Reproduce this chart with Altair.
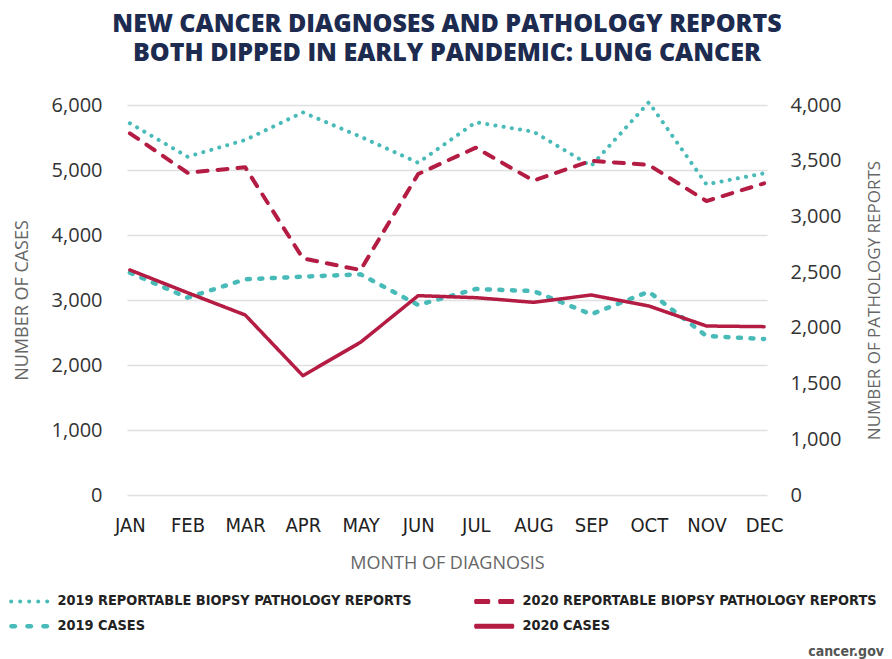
import altair as alt
import pandas as pd

months = ["JAN", "FEB", "MAR", "APR", "MAY", "JUN", "JUL", "AUG", "SEP", "OCT", "NOV", "DEC"]
cases_2019 = [3421, 3036, 3318, 3359, 3395, 2923, 3169, 3138, 2780, 3128, 2446, 2400]
cases_2020 = [3462, 3112, 2769, 1836, 2349, 3067, 3036, 2964, 3077, 2908, 2600, 2590]
reports_2019 = [3836, 3536, 3686, 3934, 3716, 3482, 3845, 3760, 3453, 4024, 3288, 3387]
reports_2020 = [3746, 3392, 3441, 2624, 2519, 3381, 3617, 3321, 3500, 3462, 3138, 3297]

# legend order (column by column): 2019 reports, 2019 cases | 2020 reports, 2020 cases
series_names = [
    "2019 REPORTABLE BIOPSY PATHOLOGY REPORTS",
    "2019 CASES",
    "2020 REPORTABLE BIOPSY PATHOLOGY REPORTS",
    "2020 CASES",
]
TEAL = "#48bbb8"
RED = "#b41c44"
series_colors = [TEAL, TEAL, RED, RED]

left_ticks = [0, 1000, 2000, 3000, 4000, 5000, 6000]
right_ticks = [500, 1000, 1500, 2000, 2500, 3000, 3500, 4000]

title_lines = ["NEW CANCER DIAGNOSES AND PATHOLOGY REPORTS",
               "BOTH DIPPED IN EARLY PANDEMIC: LUNG CANCER"]
source_text = ["cancer.gov"]

rows = []
for name, vals in zip(series_names, [reports_2019, cases_2019, reports_2020, cases_2020]):
    for m, v in zip(months, vals):
        rows.append({"month": m, "series": name, "value": v})
df = pd.DataFrame(rows)


# legend key glyphs (symbol paths in the -1..1 unit box convention)
def circle(cx, r):
    return f"M{cx - r},0A{r},{r} 0 1,0 {cx + r},0A{r},{r} 0 1,0 {cx - r},0Z"


def capsule(x0, x1, h, r):
    return (f"M{x0 + r},{-h}H{x1 - r}A{r},{r} 0 0 1 {x1},{-h + r}V{h - r}"
            f"A{r},{r} 0 0 1 {x1 - r},{h}H{x0 + r}A{r},{r} 0 0 1 {x0},{h - r}V{-h + r}"
            f"A{r},{r} 0 0 1 {x0 + r},{-h}Z")


key_dots = "".join(circle(c, 0.4) for c in [-6.6, -4.8, -3.0, -1.2, 0.6])
key_short = "".join(capsule(a, b, 0.45, 0.45) for a, b in [(-7, -5.4), (-3.8, -2.2), (-0.6, 1.0)])
key_long = "".join(capsule(a, b, 0.5, 0.3) for a, b in [(-7, -3.8), (-2.2, 1.0)])
key_solid = capsule(-7, 1, 0.5, 0.3)
series_keys = [key_dots, key_short, key_long, key_solid]

NARROW = "'Liberation Sans Narrow', 'DejaVu Sans Condensed', 'Arial Narrow', sans-serif"
SANS = "Open Sans"

legend = alt.Legend(
    title=None, orient="none", legendX=-90, legendY=489, columns=2,
    columnPadding=62, rowPadding=10, padding=0,
    symbolSize=100, symbolStrokeWidth=0,
    labelFont=NARROW, labelFontSize=14.4, labelFontWeight="bold",
    labelColor="#222222", labelOffset=6, labelLimit=500,
)

x = alt.X("month:O", sort=months, scale=alt.Scale(type="point", padding=0.05),
          axis=alt.Axis(labelAngle=0, labelFont=NARROW, labelFontSize=20, labelColor="#222222",
                        labelPadding=20, ticks=False, domain=False, grid=False,
                        title="MONTH OF DIAGNOSIS", titleFont=SANS, titleFontSize=18,
                        titleFontWeight="normal", titleColor="#666666", titlePadding=19))

y_left = alt.Y("value:Q", scale=alt.Scale(domain=[0, 6000], nice=False),
               axis=alt.Axis(values=left_ticks, format=",.0f", orient="left",
                             title="NUMBER OF CASES", titleAngle=270, titleX=-105, titleY=195,
                             titleBaseline="middle", titleAlign="center",
                             titleFont=SANS, titleFontSize=18, titleFontWeight="normal", titleColor="#666666",
                             labelFont=SANS, labelFontSize=20, labelColor="#333333", labelPadding=25,
                             ticks=False, domain=False, grid=True, gridColor="#e0e0e0", gridWidth=1.5))

y_right = alt.Y("value:Q", scale=alt.Scale(domain=[500, 4000], nice=False, zero=False),
                axis=alt.Axis(values=right_ticks, orient="right",
                              labelExpr="datum.value == 500 ? '0' : format(datum.value, ',')",
                              title="NUMBER OF PATHOLOGY REPORTS", titleAngle=270, titleX=107, titleY=195,
                              titleBaseline="middle", titleAlign="center",
                              titleFont=SANS, titleFontSize=17, titleFontWeight="normal", titleColor="#666666",
                              labelFont=SANS, labelFontSize=20, labelColor="#333333", labelPadding=23,
                              ticks=False, domain=False, grid=False))

base = alt.Chart(df)


def line(name, colour, dash, width, y):
    return base.transform_filter(alt.datum.series == name).mark_line(
        strokeWidth=width, strokeCap="round", strokeJoin="round", color=colour, strokeDash=dash
    ).encode(x=x, y=y)


cases = alt.layer(
    line(series_names[1], TEAL, [3, 9.5], 4.5, y_left),
    line(series_names[3], RED, [1, 0], 3.5, y_left),
)
reports = alt.layer(
    line(series_names[0], TEAL, [0.1, 8.2], 4, y_right),
    line(series_names[2], RED, [10, 10], 4, y_right),
)

# legend-only layer: no marks drawn, the keys come from the explicit scale domains
legend_layer = base.transform_filter("false").mark_point(filled=True, opacity=1).encode(
    color=alt.Color("series:N", scale=alt.Scale(domain=series_names, range=series_colors), legend=legend),
    shape=alt.Shape("series:N", scale=alt.Scale(domain=series_names, range=series_keys), legend=legend),
)

source = alt.Chart(pd.DataFrame({"t": source_text})).mark_text(
    font=NARROW, fontSize=14, fontWeight="bold", color="#555555", align="right", baseline="alphabetic"
).encode(text="t:N", x=alt.value(757), y=alt.value(551))

chart = alt.layer(cases, reports, legend_layer, source).resolve_scale(y="independent").properties(
    width=640, height=390,
    autosize="none",
    padding={"left": 119, "top": 97, "right": 117, "bottom": 166},
    title=alt.Title(title_lines, font=SANS, fontSize=25, fontWeight=800, color="#1c2b4f",
                    lineHeight=29, anchor="middle", offset=29),
).configure_view(stroke=None)

chart.save("out.html", embed_options={"renderer": "svg", "actions": False})
